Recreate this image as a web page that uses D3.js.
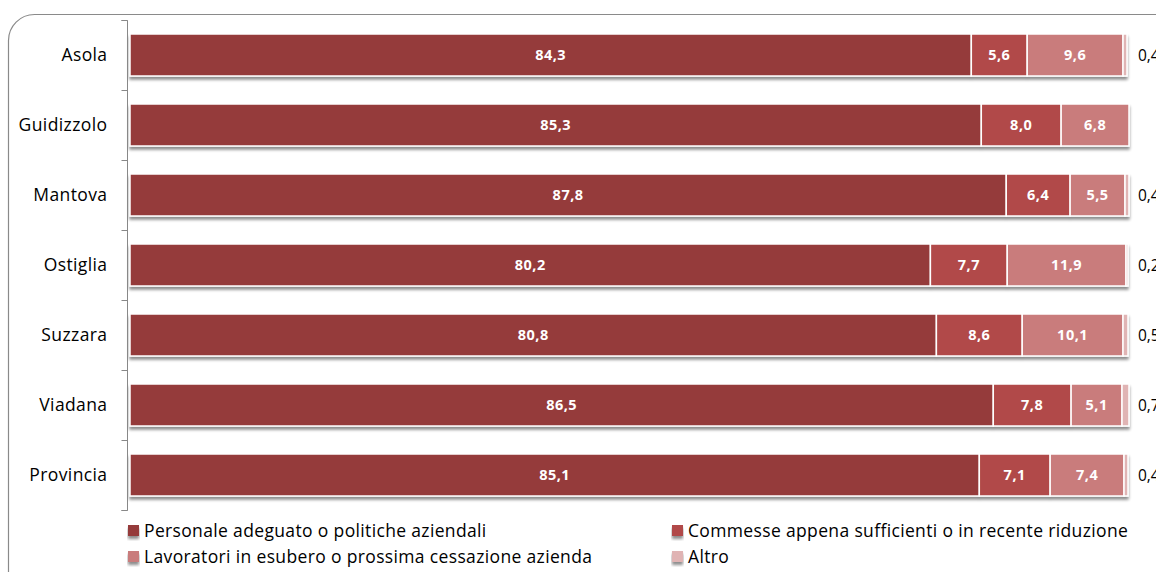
<!DOCTYPE html>
<html>
<head>
<meta charset="utf-8">
<script src="https://cdn.jsdelivr.net/npm/d3@7/dist/d3.min.js"></script>
<style>
  html, body { margin: 0; padding: 0; background: #fff; overflow: hidden; }
  svg { display: block; }
</style>
</head>
<body>
<svg id="chart" width="1156" height="572"></svg>
<script>
// Reasons for staffing levels, by area (percent)
const categories = ["Asola", "Guidizzolo", "Mantova", "Ostiglia", "Suzzara", "Viadana", "Provincia"];
const seriesNames = [
  "Personale adeguato o politiche aziendali",
  "Commesse appena sufficienti o in recente riduzione",
  "Lavoratori in esubero o prossima cessazione azienda",
  "Altro"
];
const personale  = [84.3, 85.3, 87.8, 80.2, 80.8, 86.5, 85.1];
const commesse   = [5.6, 8.0, 6.4, 7.7, 8.6, 7.8, 7.1];
const lavoratori = [9.6, 6.8, 5.5, 11.9, 10.1, 5.1, 7.4];
const altro      = [0.4, 0, 0.4, 0.2, 0.5, 0.7, 0.4];
const colors = ["#953b3b", "#b14a48", "#c97b7b", "#e0b4b4"];

const series = [personale, commesse, lavoratori, altro];
const fmt = v => v.toFixed(1).replace(".", ",");

const svg = d3.select("#chart");
const font = "'Open Sans', sans-serif";

// outer frame with rounded corner
svg.append("rect")
  .attr("x", 8.5).attr("y", 14.5)
  .attr("width", 1200).attr("height", 600)
  .attr("rx", 26).attr("ry", 26)
  .attr("fill", "#fff").attr("stroke", "#8a8a8a").attr("stroke-width", 1.2);

const defs = svg.append("defs");
const f = defs.append("filter").attr("id", "shadow")
  .attr("x", "-5%").attr("y", "-20%").attr("width", "110%").attr("height", "160%");
f.append("feGaussianBlur").attr("in", "SourceAlpha").attr("stdDeviation", 1.6).attr("result", "b");
f.append("feOffset").attr("in", "b").attr("dx", 0).attr("dy", 3).attr("result", "o");
f.append("feComponentTransfer").attr("in", "o").attr("result", "s")
  .append("feFuncA").attr("type", "linear").attr("slope", 0.45);
const m = f.append("feMerge");
m.append("feMergeNode").attr("in", "s");
m.append("feMergeNode").attr("in", "SourceGraphic");

const x = d3.scaleLinear().domain([0, 100]).range([130, 1128]);
const y = d3.scaleBand().domain(categories).range([20, 510]).paddingInner(0.4).paddingOuter(0.2);

// stacked layout
const rows = categories.map((c, i) => {
  let acc = 0;
  return series.map((s, k) => {
    const v = s[i];
    const seg = { cat: c, k, v, x0: acc, x1: acc + v };
    acc += v;
    return seg;
  });
});

const g = svg.append("g");
rows.forEach(segs => {
  const row = g.append("g").attr("filter", "url(#shadow)");
  segs.filter(s => s.v > 0).forEach(s => {
    row.append("rect")
      .attr("x", x(s.x0)).attr("y", y(s.cat))
      .attr("width", x(s.x1) - x(s.x0)).attr("height", y.bandwidth())
      .attr("fill", colors[s.k])
      .attr("stroke", "#fff").attr("stroke-width", 1.5);
  });
});

// value labels
rows.forEach(segs => {
  segs.filter(s => s.v > 0).forEach(s => {
    const cy = y(s.cat) + y.bandwidth() / 2;
    if (s.k < 3) {
      g.append("text")
        .attr("x", (x(s.x0) + x(s.x1)) / 2).attr("y", cy)
        .attr("dy", "0.36em").attr("text-anchor", "middle")
        .attr("font-family", font).attr("font-weight", "bold").attr("font-size", 14.5)
        .attr("letter-spacing", 0.5)
        .attr("fill", "#fff").text(fmt(s.v));
    } else {
      g.append("text")
        .attr("x", 1138).attr("y", cy)
        .attr("dy", "0.36em").attr("text-anchor", "start")
        .attr("font-family", font).attr("font-size", 15.5)
        .attr("fill", "#000").text(fmt(s.v));
    }
  });
});

// category axis
const axis = svg.append("g").attr("transform", "translate(127.5,0)")
  .call(d3.axisLeft(y).tickSize(0).tickPadding(20));
axis.select(".domain").attr("stroke", "#888").attr("d", "M-6,20.5H0V510.5H-6");
axis.selectAll("text").attr("font-family", font).attr("font-size", 17.5)
  .attr("letter-spacing", 0.4).attr("fill", "#000");
// boundary ticks between categories
const bounds = d3.range(categories.length + 1).map(i => 20 + i * y.step());
axis.selectAll(".bound").data(bounds).enter().append("line")
  .attr("x1", -6).attr("x2", 0)
  .attr("y1", d => d + 0.5).attr("y2", d => d + 0.5)
  .attr("stroke", "#888");

// legend
const legendPos = [[128, 531], [672, 531], [128, 557], [672, 557]];
seriesNames.forEach((name, k) => {
  const [lx, ly] = legendPos[k];
  const lg = svg.append("g").attr("transform", `translate(${lx},${ly})`);
  lg.append("rect").attr("x", 0).attr("y", -6).attr("width", 11).attr("height", 11)
    .attr("fill", colors[k]).attr("filter", "url(#shadow)");
  lg.append("text").attr("x", 16).attr("y", 0).attr("dy", "0.36em")
    .attr("font-family", font).attr("font-size", 17.5).attr("letter-spacing", 0.35)
    .attr("fill", "#000").text(name);
});
</script>
</body>
</html>
